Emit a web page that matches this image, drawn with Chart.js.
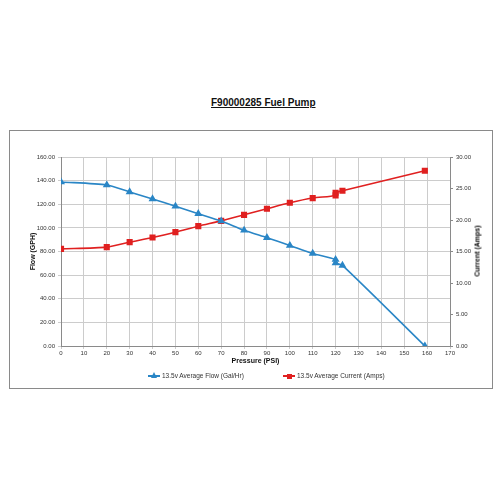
<!DOCTYPE html>
<html>
<head>
<meta charset="utf-8">
<script src="https://cdn.jsdelivr.net/npm/chart.js@4.4.0/dist/chart.umd.min.js"></script>
<style>
  body { margin: 0; background: #fff; font-family: "Liberation Sans", Arial, sans-serif; }
  #title { position: absolute; left: 211px; top: 97px; font-size: 10px; font-weight: bold; text-decoration: underline; color: #111; white-space: nowrap; }
  #box { position: absolute; left: 9px; top: 130px; width: 484px; height: 259px; border: 1px solid #8a8a8a; box-sizing: border-box; }
  #chartWrap { position: absolute; left: 0; top: 0; width: 482px; height: 257px; }
  #rightTitle { position: absolute; left: 477px; top: 251px; transform: translate(-50%, -50%) rotate(-90deg); font-size: 7px; font-weight: bold; color: #000; white-space: nowrap; }
  .leg { position: absolute; top: 372px; font-size: 6.5px; color: #333; white-space: nowrap; height: 8px; line-height: 8px; }
  .leg .ln { position: absolute; left: 0; top: 3px; width: 12px; height: 2px; }
  .leg .tx { position: absolute; left: 14px; top: 0; }
  .tri { position: absolute; left: 3px; top: -3px; width: 0; height: 0; border-left: 3px solid transparent; border-right: 3px solid transparent; border-bottom: 6px solid #2a86c6; }
  .sq { position: absolute; left: 3.5px; top: -1.5px; width: 5px; height: 5px; background: #e02020; }
</style>
</head>
<body>
<div id="title">F90000285 Fuel Pump</div>
<div id="box"><div id="chartWrap"><canvas id="fuelChart"></canvas></div></div>
<div id="rightTitle">Current (Amps)</div>
<div class="leg" style="left:148px"><div class="ln" style="background:#2a86c6"><div class="tri"></div></div><span class="tx">13.5v Average Flow (Gal/Hr)</span></div>
<div class="leg" style="left:283px"><div class="ln" style="background:#e02020"><div class="sq"></div></div><span class="tx">13.5v Average Current (Amps)</span></div>
<script>
// pressure (PSI) for each measured row
const pressure = [0, 20, 30, 40, 50, 60, 70, 80, 90, 100, 110, 120, 120, 123, 159];
// 13.5v average flow (Gal/Hr)
const flow = [138.9, 136.3, 130.4, 124.5, 118.3, 112.0, 105.8, 98.0, 91.7, 85.1, 78.4, 73.2, 70.4, 68.2, 0];
// 13.5v average current (Amps)
const current = [15.42, 15.69, 16.48, 17.22, 18.07, 19.02, 19.86, 20.82, 21.78, 22.73, 23.48, 23.9, 24.33, 24.64, 27.82];

const tickFont = { family: "Liberation Sans", size: 6 };
const titleFont = { family: "Liberation Sans", size: 7, weight: "bold" };

function toPoints(ys) {
  return pressure.map((p, i) => ({ x: p, y: ys[i] }));
}

document.addEventListener("DOMContentLoaded", function () {
  const ctx = document.getElementById("fuelChart").getContext("2d");
  window.myChart = new Chart(ctx, {
    type: "line",
    data: {
      datasets: [
        {
          label: "13.5v Average Flow (Gal/Hr)",
          data: toPoints(flow),
          yAxisID: "y",
          borderColor: "#2a86c6",
          backgroundColor: "#2a86c6",
          borderWidth: 1.6,
          pointStyle: "triangle",
          pointRadius: 3,
          tension: 0.25,
        },
        {
          label: "13.5v Average Current (Amps)",
          data: toPoints(current),
          yAxisID: "y1",
          borderColor: "#e02020",
          backgroundColor: "#e02020",
          borderWidth: 1.6,
          pointStyle: "rect",
          pointRadius: 3.2,
          tension: 0.25,
        },
      ],
    },
    options: {
      responsive: true,
      maintainAspectRatio: false,
      animation: false,
      layout: { padding: { top: 26, left: 0, right: 0, bottom: 20 } },
      plugins: { legend: { display: false }, tooltip: { enabled: false } },
      scales: {
        x: {
          type: "linear",
          min: 0,
          max: 170,
          ticks: { stepSize: 10, font: tickFont, color: "#333", padding: 1, maxRotation: 0 },
          grid: { color: "#cccccc", tickLength: 3 },
          border: { color: "#8a8a8a" },
          title: { display: true, text: "Pressure (PSI)", font: titleFont, color: "#111", padding: { top: 0, bottom: 3 } },
          afterFit: (scale) => { scale.height = 22; },
        },
        y: {
          position: "left",
          min: 0,
          max: 160,
          ticks: { stepSize: 20, font: tickFont, color: "#333", padding: 3, callback: (v) => v.toFixed(2) },
          grid: { color: "#cccccc", tickLength: 3 },
          border: { color: "#8a8a8a" },
          title: { display: true, text: "Flow (GPH)", font: titleFont, color: "#111", padding: { top: 19, bottom: 0 } },
          afterFit: (scale) => { scale.width = 51; },
        },
        y1: {
          position: "right",
          min: 0,
          max: 30,
          ticks: { stepSize: 5, font: tickFont, color: "#333", padding: 3, callback: (v) => v.toFixed(2) },
          grid: { drawOnChartArea: false, color: "#8a8a8a", tickLength: 3 },
          border: { color: "#8a8a8a" },
          afterFit: (scale) => { scale.width = 42; },
        },
      },
    },
  });
});
</script>
</body>
</html>
